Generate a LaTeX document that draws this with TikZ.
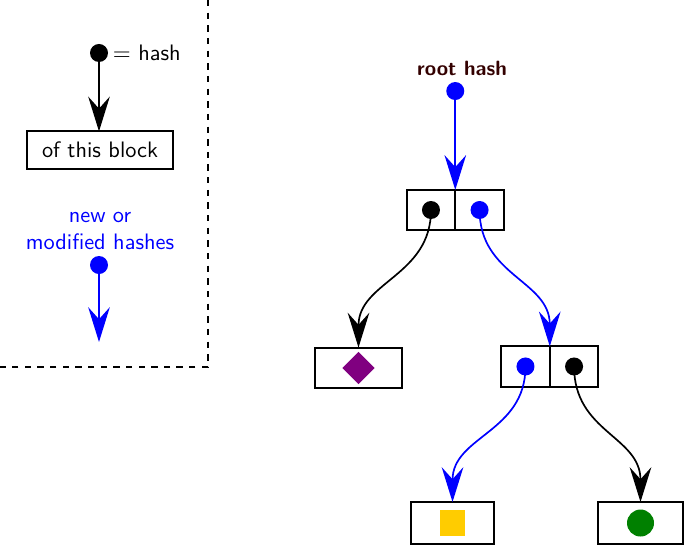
\documentclass[tikz,border=0pt]{standalone}
\usetikzlibrary{arrows.meta,positioning,shapes.geometric}

\definecolor{hashblue}{RGB}{0,0,255}
\definecolor{rootred}{RGB}{51,0,0}
\definecolor{leafpurple}{RGB}{128,0,128}
\definecolor{leafyellow}{RGB}{255,204,0}
\definecolor{leafgreen}{RGB}{0,128,0}

\tikzset{
  hashdot/.style={circle,fill,inner sep=0pt,minimum size=3mm},
  block/.style={draw,line width=0.9pt,minimum width=1.45cm,minimum height=6.8mm,outer sep=0pt},
  cell/.style={draw,line width=0.9pt,minimum width=8.1mm,minimum height=6.7mm,outer sep=0pt},
  link/.style={thick,->},
  hash edge/.style={link,
    to path={.. controls +(0,-1.1) and +(0,1.1) .. (\tikztotarget) \tikztonodes}}
}

\begin{document}
\begin{tikzpicture}[
    font=\sffamily\fontsize{10.6pt}{13pt}\selectfont,
    >={Stealth[length=5.8mm,width=3.6mm,inset=2mm]}]

\useasboundingbox (0,0) rectangle (11.4,-9.083);

% key
\draw[semithick,dashed] (3.467,0) -- (3.467,-6.117) -- (0,-6.117);

\node[hashdot] (keydot) at (1.65,-0.883) {};
\node[right=-0.5mm of keydot] (keytext) {$=$ hash};
\node[block,minimum width=2.43cm,minimum height=6.2mm] (keyblock) at (1.667,-2.5) {of this block};
\draw[link] (keydot.center) -- (keydot.center |- keyblock.north);

\node[hashblue,align=center] (newtext) at (1.667,-3.85) {new or\\modified hashes};
\node[hashdot,hashblue] (newdot) at (1.65,-4.417) {};
\coordinate (newend) at (1.65,-5.7);
\draw[link,hashblue] (newdot.center) -- (newend);

% the tree
\node[rootred,font=\sffamily\bfseries\fontsize{9.8pt}{12pt}\selectfont] (roottext) at (7.7,-1.133) {root hash};

\node[cell] (rootl) at (7.183,-3.5) {};
\node[cell,right=0pt of rootl] (rootr) {};
\node[hashdot,hashblue] (rootdot) at (rootl.north east |- 0,-1.517) {};
\node[hashdot] (rootld) at (rootl) {};
\node[hashdot,hashblue] (rootrd) at (rootr) {};
\draw[link,hashblue] (rootdot.center) -- (rootl.north east);

\node[block] (leafa) at (5.975,-6.133) {};
\node[diamond,fill=leafpurple,inner sep=0pt,minimum size=5.4mm] at (leafa) {};

\node[cell] (midl) at (8.758,-6.108) {};
\node[cell,right=0pt of midl] (midr) {};
\node[hashdot,hashblue] (midld) at (midl) {};
\node[hashdot] (midrd) at (midr) {};

\node[block,minimum width=1.39cm,minimum height=7mm] (leafb) at (7.542,-8.717) {};
\node[fill=leafyellow,inner sep=0pt,minimum size=4.3mm] at (leafb) {};

\node[block,minimum width=1.42cm,minimum height=7mm] (leafc) at (10.675,-8.717) {};
\node[circle,fill=leafgreen,inner sep=0pt,minimum size=4.5mm] at (leafc) {};

\draw[hash edge] (rootld.center) to (leafa.north);
\draw[hash edge,hashblue] (rootrd.center) to (midl.north east);
\draw[hash edge,hashblue] (midld.center) to (leafb.north);
\draw[hash edge] (midrd.center) to (leafc.north);

\end{tikzpicture}
\end{document}
